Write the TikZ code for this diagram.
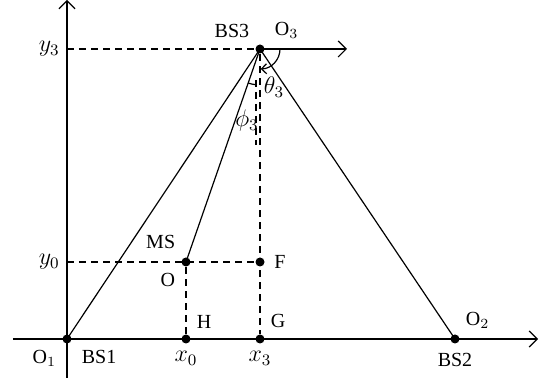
\documentclass[tikz,border=0pt]{standalone}
\usepackage{amsmath,fontspec}
\setmainfont{Liberation Serif}
\usetikzlibrary{arrows.meta,positioning}

\begin{document}
\begin{tikzpicture}[x=0.5pt,y=0.5pt,>={Straight Barb[length=4pt,width=8pt]},
  dot/.style={circle,fill,inner sep=0pt,minimum size=4.5pt},
  guide/.style={dash pattern=on 3.5pt off 2.5pt},
  mlabel/.style={font=\large},
  line width=0.6pt]
\useasboundingbox (-67,-52) rectangle (480,339);
% axes
\coordinate (xl) at (-54,0);
\coordinate (xr) at (471,0);
\coordinate (yb) at (0,-39);
\coordinate (yt) at (0,339);
\draw[->] (xl)--(xr);
\draw[->] (yb)--(yt);
% points
\node[dot] (bs1) at (0,0) {};
\node[dot] (bs2) at (388,0) {};
\node[dot] (bs3) at (193,290) {};
\node[dot] (ms) at (119,77) {};
\node[dot] (f) at (193,77) {};
\node[dot] (h) at (119,0) {};
\node[dot] (g) at (193,0) {};
\coordinate (y3) at (0,290);
\coordinate (y0) at (0,77);
\coordinate (dir) at (280,290);
% dashed guides
\draw[guide] (y3)--(bs3.center);
\draw[guide] (y0)--(f);
\draw[guide] (bs3)--(g);
\draw[guide] (ms)--(h);
\draw[guide] (189,259)--(189,194);
% rays from BS3
\draw (bs1.center)--(bs3.center)--(bs2.center);
\draw (bs3.center)--(ms.center);
\draw[->] (bs3.center)--(dir);
% angles
\draw[->,>={Straight Barb[length=2.5pt,width=5pt]}] (bs3.center) ++(0:20) arc[start angle=0,end angle=-88,radius=20];
\draw (bs3.center) ++(-109.2:36) arc[start angle=-109.2,end angle=-97,radius=36];
\node[mlabel] at (207,252) {$\theta_3$};
\node[mlabel] at (180,218) {$\phi_3$};
% labels
\node[above left=0pt of bs3] {BS3};
\node[above right=0pt and 2pt of bs3] {O$_3$};
\node[mlabel,left=0pt of y3] {$y_3$};
\node[mlabel,left=0pt of y0] {$y_0$};
\node[above left=1pt and 0pt of ms] {MS};
\node[below left=0pt of ms] {O};
\node[right=1pt of f] {F};
\node[above right=0pt of h] {H};
\node[above right=0pt of g] {G};
\node[mlabel,below=0pt of h] {$x_0$};
\node[mlabel,below=0pt of g] {$x_3$};
\node[below left=0pt of bs1] {O$_1$};
\node[below right=0pt and 2pt of bs1] {BS1};
\node[above right=0pt of bs2] {O$_2$};
\node[below=1pt of bs2] {BS2};
\end{tikzpicture}
\end{document}
